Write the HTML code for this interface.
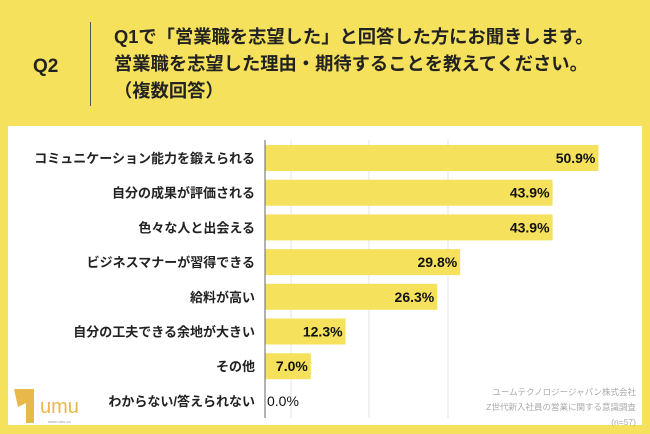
<!DOCTYPE html>
<html><head><meta charset="utf-8"><style>
body{margin:0;width:650px;height:434px;background:#f6e15c;overflow:hidden;font-family:"Liberation Sans","Noto Sans CJK JP",sans-serif;position:relative}
.a{position:absolute}
</style></head><body>
<div class="a" style="left:33px;top:56px;font-size:19px;font-weight:bold;color:#222">Q2</div>
<div class="a" style="left:90px;top:22px;width:1px;height:84px;background:#555"></div>
<div class="a" style="left:114px;top:23px;font-size:18.3px;font-weight:bold;color:#222;line-height:27px;white-space:nowrap">Q1で「営業職を志望した」と回答した方にお聞きします。<br>営業職を志望した理由・期待することを教えてください。<br>（複数回答）</div>
<div class="a" style="left:8px;top:126px;width:634px;height:299px;background:#fff"></div>
<svg class="a" style="left:0;top:0" width="650" height="434" id="svg"></svg>
<div class="a" style="left:12px;top:385px;width:70px;height:40px">
<svg width="70" height="40"><path d="M2 4 L22 4 L22 38 L14 38 L14 18 L6 22 Z" fill="#e8b84a"/><text x="28" y="28" font-size="20" fill="#e8b84a" font-family="Liberation Sans">umu</text><text x="36" y="38" font-size="4" fill="#999">www.umu.co</text></svg></div>
<div class="a" style="right:14px;top:385px;font-size:8.5px;color:#aaa;text-align:right;line-height:15px">ユームテクノロジージャパン株式会社<br>Z世代新入社員の営業に関する意識調査<br>(n=57)</div>
<script>
const categories=["コミュニケーション能力を鍛えられる","自分の成果が評価される","色々な人と出会える","ビジネスマナーが習得できる","給料が高い","自分の工夫できる余地が大きい","その他","わからない/答えられない"];
const values=[50.9,43.9,43.9,29.8,26.3,12.3,7.0,0.0];
const svg=document.getElementById('svg');const NS='http://www.w3.org/2000/svg';
const x0=265,scale=6.55,y0=158,step=34.7,bh=26;
const xs=v=>x0+v*scale, ys=i=>y0+i*step;
function mk(t,a){const e=document.createElementNS(NS,t);for(const k in a)e.setAttribute(k,a[k]);svg.appendChild(e);return e;}
[291,369,448].forEach(g=>{const l=mk('line',{x1:g,x2:g,y1:140,y2:418,stroke:'#e4e4e4'});

});
categories.forEach((c,i)=>{
const y=ys(i);
const r=mk('rect',{x:x0,y:y-bh/2,width:values[i]*scale,height:bh,fill:'#f6e15c'});


const t=mk('text',{x:255,y:y+5,'text-anchor':'end','font-size':'13','font-weight':'bold',fill:'#222'});t.textContent=c;


const v=values[i];const w=v*scale;
const vt=mk('text',{x:w>30?xs(v)-3:x0+2,y:y+5,'text-anchor':w>30?'end':'start','font-size':'14','font-weight':w>0?'bold':'normal',fill:'#111'});vt.textContent=v.toFixed(1)+'%';


});
const ax=mk('line',{x1:x0,x2:x0,y1:140,y2:418,stroke:'#666'});


</script>
</body></html>
